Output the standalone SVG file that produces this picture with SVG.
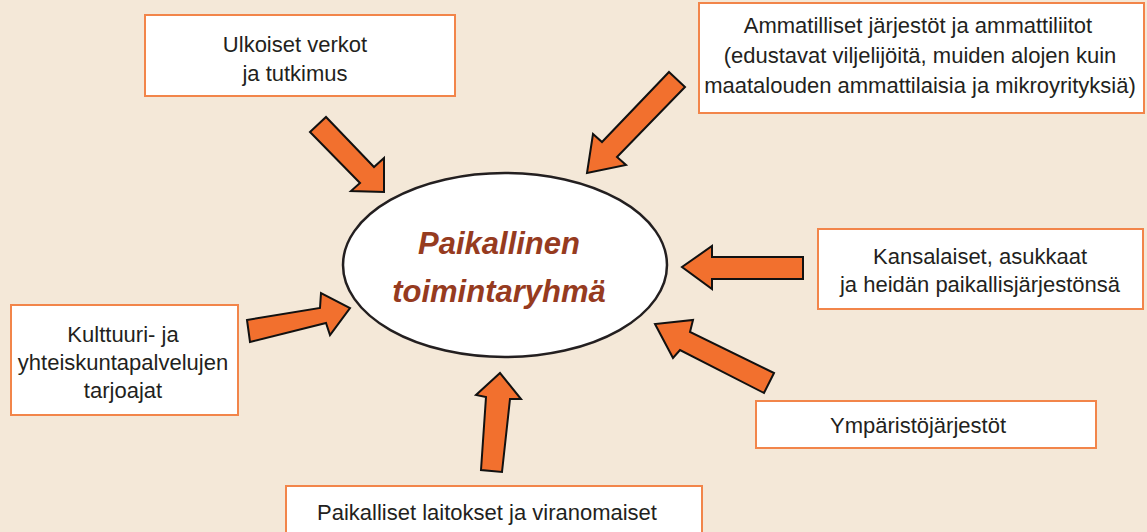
<svg xmlns="http://www.w3.org/2000/svg" width="1147" height="532" viewBox="0 0 1147 532">
<style>
.box{fill:#fff;stroke:#f2854a;stroke-width:2}
.lbl{font-family:"Liberation Sans",Arial,sans-serif;font-size:22px;fill:#231f20;text-anchor:middle}
.arr{fill:#f2702e;stroke:#111;stroke-width:2;stroke-linejoin:miter}
.hub{font-family:"Liberation Sans",Arial,sans-serif;font-size:31px;font-weight:bold;font-style:italic;fill:#963b1f;text-anchor:middle}
</style>
<rect width="1147" height="532" fill="#f4e8d8"/>
<g id="connectors">
<polygon class="arr" points="310,132 326,117 374,167 384,158 384,192 351,191 360,183"/>
<polygon class="arr" points="669,72 685,87 617,157 626,165 587,173 593,134 602,142"/>
<polygon class="arr" points="803,257 803,279 712,279 712,289 682,267 712,246 712,257"/>
<polygon class="arr" points="774,373 764,393 680,350 673,358 655,324 693,320 690,332"/>
<polygon class="arr" points="247,320 320,308 321,293 350,308 330,335 326,323 250,342"/>
<polygon class="arr" points="481,470 486,397 476,395 500,373 521,399 510,399 502,472"/>
</g>
<g id="hub">
<ellipse cx="505" cy="265" rx="162" ry="92" fill="#fff" stroke="#231f20" stroke-width="2.5"/>
<text class="hub" x="499" y="254">Paikallinen</text>
<text class="hub" x="499" y="302">toimintaryhmä</text>
</g>
<g id="n-ulkoiset">
<rect class="box" x="145" y="15" width="310" height="81"/>
<text class="lbl" x="295" y="52">Ulkoiset verkot</text>
<text class="lbl" x="295" y="81">ja tutkimus</text>
</g>
<g id="n-ammatilliset">
<rect class="box" x="699" y="3" width="445" height="110"/>
<text class="lbl" x="918" y="33">Ammatilliset järjestöt ja ammattiliitot</text>
<text class="lbl" x="920" y="63">(edustavat viljelijöitä, muiden alojen kuin</text>
<text class="lbl" x="920" y="93">maatalouden ammattilaisia ja mikroyrityksiä)</text>
</g>
<g id="n-kansalaiset">
<rect class="box" x="818" y="229" width="325" height="80"/>
<text class="lbl" x="980" y="264">Kansalaiset, asukkaat</text>
<text class="lbl" x="980" y="292">ja heidän paikallisjärjestönsä</text>
</g>
<g id="n-ymparisto">
<rect class="box" x="756" y="401" width="340" height="47"/>
<text class="lbl" x="918" y="433">Ympäristöjärjestöt</text>
</g>
<g id="n-kulttuuri">
<rect class="box" x="11" y="305" width="227" height="110"/>
<text class="lbl" x="123" y="342">Kulttuuri- ja</text>
<text class="lbl" x="123" y="370">yhteiskuntapalvelujen</text>
<text class="lbl" x="123" y="398">tarjoajat</text>
</g>
<g id="n-paikalliset">
<rect class="box" x="286" y="486" width="416" height="60"/>
<text class="lbl" x="487" y="520">Paikalliset laitokset ja viranomaiset</text>
</g>
</svg>
